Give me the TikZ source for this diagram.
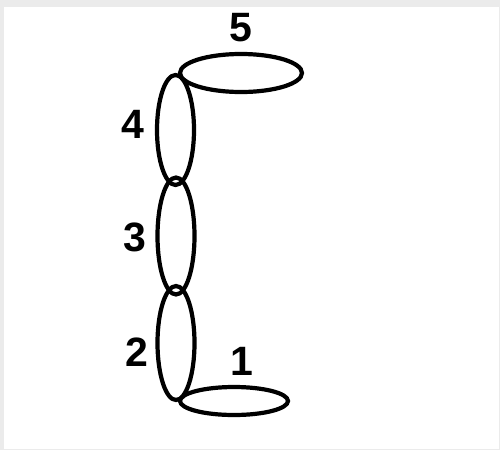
\documentclass[tikz,border=0pt]{standalone}
\usepackage{fontspec}
\setmainfont{Liberation Sans}
\usetikzlibrary{shapes.geometric}
\definecolor{framegray}{HTML}{EBEBEB}
\tikzset{
  loop/.style={draw=black, line width=4.2pt, ellipse, inner sep=0pt, minimum width=#1},
  num/.style={inner sep=0pt, font=\fontsize{41}{43}\selectfont\bfseries},
}
\begin{document}
\begin{tikzpicture}[x=1pt,y=-1pt]
\fill[framegray] (0,0) rectangle (500,450);
\fill[white] (4,7) rectangle (499,449);
\useasboundingbox (0,0) rectangle (500,450);
\node[loop=122pt, minimum height=38pt] (e5) at (241,73) {};
\node[loop=37pt, minimum height=110pt] (e4) at (175.5,130) {};
\node[loop=37pt, minimum height=117pt] (e3) at (176,236) {};
\node[loop=37pt, minimum height=114pt] (e2) at (176,343) {};
\node[loop=108pt, minimum height=28pt] (e1) at (234,401) {};
\node[num] (l5) at (241,28) {5};
\node[num] (l4) at (133,124) {4};
\node[num] (l3) at (135,237) {3};
\node[num] (l2) at (137,352) {2};
\node[num] (l1) at (242,361) {1};
\end{tikzpicture}
\end{document}
